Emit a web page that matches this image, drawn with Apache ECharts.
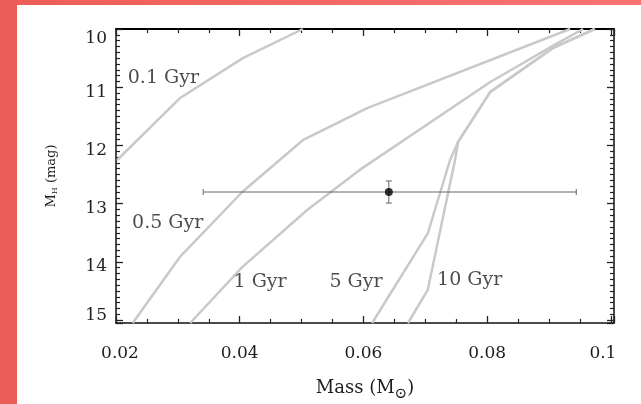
<!DOCTYPE html>
<html>
<head>
<meta charset="utf-8">
<script src="https://cdn.jsdelivr.net/npm/echarts@6/dist/echarts.min.js"></script>
<style>
html,body{margin:0;padding:0;background:#fff;width:641px;height:404px;overflow:hidden;}
#leftband{position:absolute;left:0;top:0;width:17px;height:404px;background:#ec5d58;}
#topband{position:absolute;left:0;top:0;width:641px;height:5px;background:linear-gradient(to right,#ec5d58,#fa7372);}
#chart{position:absolute;left:0;top:0;width:641px;height:404px;}
</style>
</head>
<body>
<div id="leftband"></div>
<div id="topband"></div>
<div id="chart"></div>
<script>
// Isochrones: mass (Msun) vs M_H (mag)
const iso01Mass = [0.0502, 0.0405, 0.0303, 0.0202];
const iso01MH   = [10.0, 10.50, 11.19, 12.25];
const iso05Mass = [0.0934, 0.0606, 0.0502, 0.0404, 0.0303, 0.0227];
const iso05MH   = [10.0, 11.36, 11.91, 12.80, 13.92, 15.05];
const iso1Mass  = [0.0955, 0.0906, 0.0805, 0.0594, 0.0509, 0.0404, 0.0320];
const iso1MH    = [10.0, 10.29, 10.91, 12.42, 13.11, 14.09, 15.05];
const iso5Mass  = [0.0974, 0.0906, 0.0805, 0.0753, 0.0740, 0.0704, 0.0614];
const iso5MH    = [10.0, 10.33, 11.08, 11.94, 12.25, 13.51, 15.05];
const iso10Mass = [0.0974, 0.0906, 0.0805, 0.0753, 0.0748, 0.0704, 0.0672];
const iso10MH   = [10.0, 10.33, 11.08, 11.94, 12.25, 14.48, 15.05];

// Object measurement
const objMass = 0.0641, objMassLo = 0.0341, objMassHi = 0.0944;
const objMH = 12.80, objMHLo = 12.61, objMHHi = 12.99;

// Isochrone labels (text, anchor mass, anchor M_H)
const labelText = ['0.1 Gyr', '0.5 Gyr', '1 Gyr', '5 Gyr', '10 Gyr'];
const labelMass = [0.0219, 0.0226, 0.0390, 0.0545, 0.0719];
const labelMH   = [10.84, 13.33, 14.35, 14.35, 14.31];

// Tick labels
const xTickLabels = ['0.02', '0.04', '0.06', '0.08', '0.1'];
const yTickLabels = ['10', '11', '12', '13', '14', '15'];

const zip = (a, b) => a.map((v, i) => [v, b[i]]);
const serif = 'DejaVu Serif';
const txt = '#1e1e1e';
const tickCol = '#222';
const isoStyle = { color: '#c9c9c9', width: 2.5 };

function isoSeries(m, h) {
  return { type: 'line', data: zip(m, h), symbol: 'none', lineStyle: isoStyle,
           clip: true, silent: true, z: 2 };
}

function axisBase(extra, minorSplit) {
  return Object.assign({
    axisLine: { show: true, onZero: false, lineStyle: { color: '#111', width: 1.5 } },
    axisTick: { show: true, inside: true, length: 7, lineStyle: { color: tickCol, width: 1.3 } },
    minorTick: { show: true, splitNumber: minorSplit, length: 4, lineStyle: { color: tickCol, width: 1.2 } },
    splitLine: { show: false }
  }, extra);
}

const xRich = {
  first: { fontFamily: serif, fontSize: 17, color: txt, padding: [0, 0, 0, 8] },
  mid:   { fontFamily: serif, fontSize: 17, color: txt },
  last:  { fontFamily: serif, fontSize: 17, color: txt, padding: [0, 16, 0, 0] }
};
const yRich = {
  first: { fontFamily: serif, fontSize: 17, color: txt, padding: [20, 0, 0, 0] },
  mid:   { fontFamily: serif, fontSize: 17, color: txt, padding: [10, 0, 0, 0] },
  last:  { fontFamily: serif, fontSize: 17, color: txt, padding: [0, 0, 10, 0] }
};
function richTick(labels) {
  return function (v, idx) {
    const i = idx;
    const s = labels[i] !== undefined ? labels[i] : String(v);
    const k = i === 0 ? 'first' : (i === labels.length - 1 ? 'last' : 'mid');
    return '{' + k + '|' + s + '}';
  };
}

const chart = echarts.init(document.getElementById('chart'));
chart.setOption({
  animation: false,
  backgroundColor: 'transparent',
  grid: { left: 116, right: 27, top: 29, bottom: 81, containLabel: false, outerBoundsMode: 'none' },
  xAxis: [
    axisBase({
      type: 'value', position: 'bottom', min: 0.02, max: 0.1005, interval: 0.02,
      axisLabel: { margin: 22, formatter: richTick(xTickLabels), rich: xRich,
                   fontFamily: serif, fontSize: 17, color: txt },
      name: 'Mass (M{sub|⊙})', nameLocation: 'middle', nameGap: 52,
      nameTextStyle: { fontFamily: serif, fontSize: 18, color: txt,
        rich: { sub: { fontFamily: serif, fontSize: 15, color: txt, padding: [12, 0, 0, 0] } } }
    }, 4),
    axisBase({
      type: 'value', position: 'top', min: 0.02, max: 0.1005, interval: 0.02,
      axisLine: { show: true, onZero: false, lineStyle: { color: '#000', width: 2 } },
      axisLabel: { show: false }
    }, 4)
  ],
  yAxis: [
    axisBase({
      type: 'value', position: 'left', inverse: true, min: 10, max: 15.05, interval: 1,
      axisLabel: { margin: 9, formatter: richTick(yTickLabels), rich: yRich,
                   fontFamily: serif, fontSize: 17, color: txt },
      name: 'M{sub|H} (mag)', nameLocation: 'middle', nameGap: 57, nameRotate: 90,
      nameTextStyle: { fontFamily: serif, fontSize: 13, color: txt,
        rich: { sub: { fontFamily: serif, fontSize: 8, color: txt, padding: [6, 0, 0, 0] } } }
    }, 10),
    axisBase({
      type: 'value', position: 'right', inverse: true, min: 10, max: 15.05, interval: 1,
      axisLabel: { show: false }
    }, 10)
  ],
  series: [
    isoSeries(iso01Mass, iso01MH),
    isoSeries(iso05Mass, iso05MH),
    isoSeries(iso1Mass, iso1MH),
    isoSeries(iso5Mass, iso5MH),
    isoSeries(iso10Mass, iso10MH),
    {
      type: 'custom', z: 5, silent: true,
      data: [[objMass, objMH, objMassLo, objMassHi, objMHLo, objMHHi]],
      renderItem: function (params, api) {
        const l = api.coord([api.value(2), api.value(1)]);
        const r = api.coord([api.value(3), api.value(1)]);
        const t = api.coord([api.value(0), api.value(4)]);
        const b = api.coord([api.value(0), api.value(5)]);
        const st = { stroke: '#666', lineWidth: 1 };
        const cap = 3;
        return { type: 'group', children: [
          { type: 'line', shape: { x1: l[0], y1: l[1], x2: r[0], y2: r[1] }, style: st },
          { type: 'line', shape: { x1: l[0], y1: l[1] - cap, x2: l[0], y2: l[1] + cap }, style: st },
          { type: 'line', shape: { x1: r[0], y1: r[1] - cap, x2: r[0], y2: r[1] + cap }, style: st },
          { type: 'line', shape: { x1: t[0], y1: t[1], x2: b[0], y2: b[1] }, style: st },
          { type: 'line', shape: { x1: t[0] - cap, y1: t[1], x2: t[0] + cap, y2: t[1] }, style: st },
          { type: 'line', shape: { x1: b[0] - cap, y1: b[1], x2: b[0] + cap, y2: b[1] }, style: st }
        ] };
      }
    },
    {
      type: 'scatter', z: 6, silent: true, symbol: 'circle', symbolSize: 8,
      itemStyle: { color: '#000' },
      data: [[objMass, objMH]]
    },
    {
      type: 'scatter', z: 4, silent: true, symbolSize: 0,
      data: labelText.map((t, i) => ({ name: t, value: [labelMass[i], labelMH[i]] })),
      label: { show: true, position: [0, 0], align: 'left', verticalAlign: 'middle',
               formatter: p => p.name, fontFamily: serif, fontSize: 19, color: txt }
    }
  ]
});
</script>
</body>
</html>
